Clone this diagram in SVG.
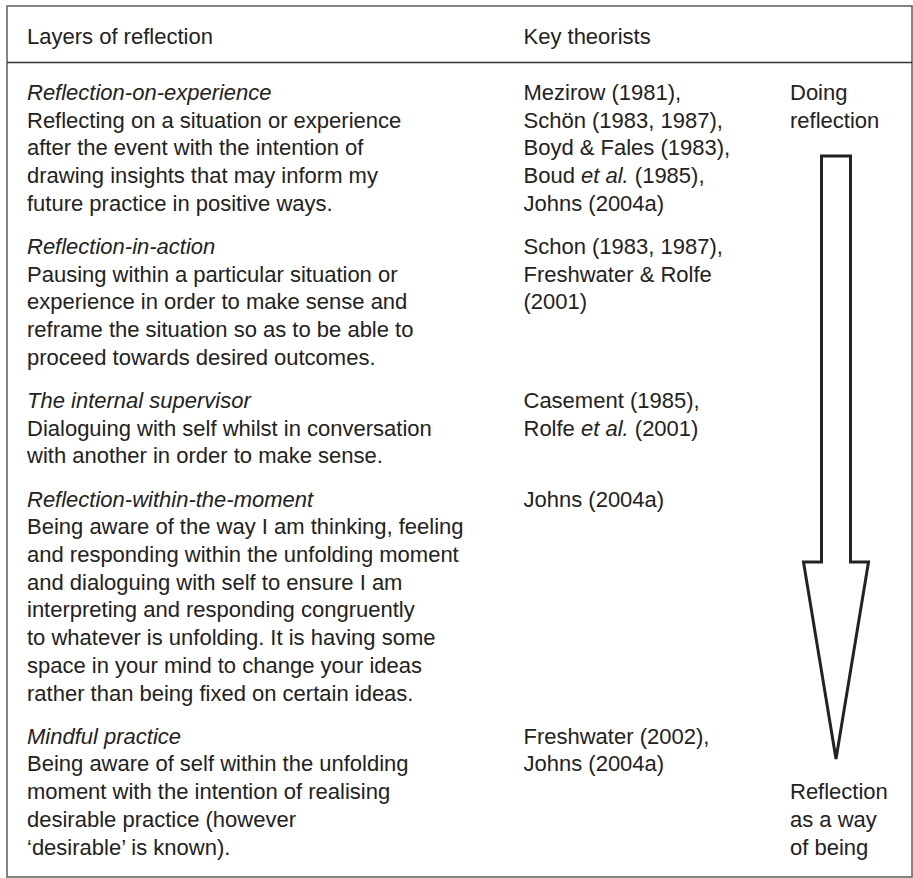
<svg xmlns="http://www.w3.org/2000/svg" width="913" height="878" viewBox="0 0 913 878">
<style>
text{font-family:"Liberation Sans",Arial,Helvetica,sans-serif;font-size:22px;fill:#222}
.it{font-style:italic}
.frame{fill:none;stroke:#666;stroke-width:1.6}
.sep{stroke:#333;stroke-width:1.4}
.arrow{fill:#fff;stroke:#222;stroke-width:3;stroke-linejoin:miter}
</style>
<rect width="913" height="878" fill="#fff"/>
<g id="frame">
<rect class="frame" x="7" y="6" width="905" height="871"/>
<line class="sep" x1="7" y1="62.5" x2="912" y2="62.5"/>
</g>
<g id="header">
<text x="27" y="44">Layers of reflection</text>
<text x="523.5" y="44">Key theorists</text>
</g>
<g id="row1">
<text x="27" y="100"><tspan class="it">Reflection-on-experience</tspan><tspan x="27" y="127.7">Reflecting on a situation or experience</tspan><tspan x="27" y="155.4">after the event with the intention of</tspan><tspan x="27" y="183.1">drawing insights that may inform my</tspan><tspan x="27" y="210.8">future practice in positive ways.</tspan></text>
<text x="523.5" y="100">Mezirow (1981),<tspan x="523.5" y="127.7">Schön (1983, 1987),</tspan><tspan x="523.5" y="155.4">Boyd &amp; Fales (1983),</tspan><tspan x="523.5" y="183.1">Boud <tspan class="it">et al.</tspan> (1985),</tspan><tspan x="523.5" y="210.8">Johns (2004a)</tspan></text>
</g>
<g id="row2">
<text x="27" y="254"><tspan class="it">Reflection-in-action</tspan><tspan x="27" y="281.7">Pausing within a particular situation or</tspan><tspan x="27" y="309.4">experience in order to make sense and</tspan><tspan x="27" y="337.1">reframe the situation so as to be able to</tspan><tspan x="27" y="364.8">proceed towards desired outcomes.</tspan></text>
<text x="523.5" y="254">Schon (1983, 1987),<tspan x="523.5" y="281.7">Freshwater &amp; Rolfe</tspan><tspan x="523.5" y="309.4">(2001)</tspan></text>
</g>
<g id="row3">
<text x="27" y="408"><tspan class="it">The internal supervisor</tspan><tspan x="27" y="435.7">Dialoguing with self whilst in conversation</tspan><tspan x="27" y="463.4">with another in order to make sense.</tspan></text>
<text x="523.5" y="408">Casement (1985),<tspan x="523.5" y="435.7">Rolfe <tspan class="it">et al.</tspan> (2001)</tspan></text>
</g>
<g id="row4">
<text x="27" y="506.6"><tspan class="it">Reflection-within-the-moment</tspan><tspan x="27" y="534.3">Being aware of the way I am thinking, feeling</tspan><tspan x="27" y="562">and responding within the unfolding moment</tspan><tspan x="27" y="589.7">and dialoguing with self to ensure I am</tspan><tspan x="27" y="617.4">interpreting and responding congruently</tspan><tspan x="27" y="645.1">to whatever is unfolding. It is having some</tspan><tspan x="27" y="672.8">space in your mind to change your ideas</tspan><tspan x="27" y="700.5">rather than being fixed on certain ideas.</tspan></text>
<text x="523.5" y="506.6">Johns (2004a)</text>
</g>
<g id="row5">
<text x="27" y="743.7"><tspan class="it">Mindful practice</tspan><tspan x="27" y="771.4">Being aware of self within the unfolding</tspan><tspan x="27" y="799.1">moment with the intention of realising</tspan><tspan x="27" y="826.8">desirable practice (however</tspan><tspan x="27" y="854.5">‘desirable’ is known).</tspan></text>
<text x="523.5" y="743.7">Freshwater (2002),<tspan x="523.5" y="771.4">Johns (2004a)</tspan></text>
</g>
<g id="label-top">
<text x="790" y="100">Doing<tspan x="790" y="127.7">reflection</tspan></text>
</g>
<g id="connectors">
<polygon class="arrow" points="821.5,156 850.5,156 850.5,562 868.5,562 836,759 803.5,562 821.5,562"/>
</g>
<g id="label-bottom">
<text x="790" y="799.1">Reflection<tspan x="790" y="826.8">as a way</tspan><tspan x="790" y="854.5">of being</tspan></text>
</g>
</svg>
